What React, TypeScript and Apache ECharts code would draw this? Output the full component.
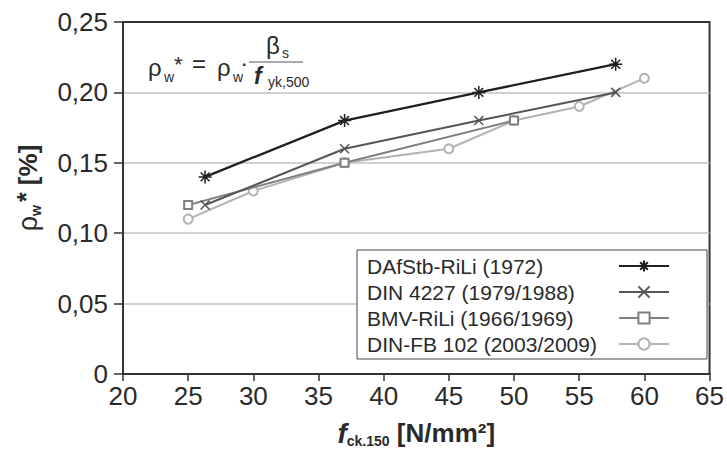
import React, { useEffect, useRef } from "react";
import * as echarts from "echarts";

const seriesNames = [
  "DAfStb-RiLi (1972)",
  "DIN 4227 (1979/1988)",
  "BMV-RiLi (1966/1969)",
  "DIN-FB 102 (2003/2009)",
];

const dafstbX = [26.3, 37, 47.3, 57.8];
const dafstbY = [0.14, 0.18, 0.2, 0.22];

const din4227X = [26.3, 37, 47.3, 57.8];
const din4227Y = [0.12, 0.16, 0.18, 0.2];

const bmvX = [25, 37, 50];
const bmvY = [0.12, 0.15, 0.18];

const dinfbX = [25, 30, 37, 45, 50, 55, 60];
const dinfbY = [0.11, 0.13, 0.15, 0.16, 0.18, 0.19, 0.21];

const xTickLabels = ["20", "25", "30", "35", "40", "45", "50", "55", "60", "65"];
const yTickLabels = ["0", "0,05", "0,10", "0,15", "0,20", "0,25"];

const FONT = "'Liberation Sans', Arial, Helvetica, sans-serif";
const TXT = "#2a2a2a";

const zip = (xs: number[], ys: number[]) => xs.map((x, i) => [x, ys[i]]);

const ASTERISK = "path://M5 0L5 10M0 5L10 5M1.6 1.6L8.4 8.4M1.6 8.4L8.4 1.6";
const CROSS = "path://M0 0L10 10M0 10L10 0";

export default function App() {
  const ref = useRef<HTMLDivElement>(null);

  useEffect(() => {
    if (!ref.current) return;
    const chart = echarts.init(ref.current, undefined, { renderer: "svg" });

    const t = (
      text: string,
      x: number,
      y: number,
      size: number,
      extra: any = {}
    ) => ({
      type: "text",
      x,
      y,
      style: {
        text,
        fontSize: size,
        fontFamily: FONT,
        fill: TXT,
        verticalAlign: "middle",
        align: "left",
        ...extra,
      },
      z: 100,
    });

    const option: any = {
      animation: false,
      backgroundColor: "#ffffff",
      grid: {
        left: 123,
        right: 16,
        top: 22,
        bottom: 79,
        show: true,
        borderColor: "#333",
        borderWidth: 2,
        backgroundColor: "transparent",
      },
      xAxis: {
        type: "value",
        min: 20,
        max: 65,
        interval: 5,
        name: "{f|f}{sub|ck.150}{t| [N/mm²]}",
        nameLocation: "middle",
        nameGap: 44,
        nameTextStyle: {
          fontFamily: FONT,
          color: TXT,
          rich: {
            f: {
              fontSize: 28,
              fontWeight: "bold",
              fontStyle: "italic",
              fontFamily: FONT,
              color: TXT,
              lineHeight: 30,
            },
            sub: {
              fontSize: 14,
              fontWeight: "bold",
              fontFamily: FONT,
              color: TXT,
              lineHeight: 16,
              verticalAlign: "bottom",
            },
            t: {
              fontSize: 26,
              fontWeight: "bold",
              fontFamily: FONT,
              color: TXT,
              lineHeight: 30,
            },
          },
        },
        axisLine: { show: true, lineStyle: { color: "#333", width: 2 } },
        axisTick: {
          show: true,
          inside: false,
          length: 7,
          lineStyle: { color: "#333", width: 1.5 },
        },
        axisLabel: {
          fontSize: 26,
          fontFamily: FONT,
          color: TXT,
          margin: 9,
          formatter: (v: number) => xTickLabels[Math.round((v - 20) / 5)] ?? "",
        },
        splitLine: { show: false },
      },
      yAxis: {
        type: "value",
        min: 0,
        max: 0.25,
        interval: 0.05,
        name: "{r|ρ}{sub|w}{sup|*}{t| [%]}",
        nameLocation: "middle",
        nameGap: 80,
        nameRotate: 90,
        nameTextStyle: {
          fontFamily: FONT,
          color: TXT,
          padding: [0, 0, 0, 20],
          rich: {
            r: {
              fontSize: 27,
              fontFamily: FONT,
              color: TXT,
              lineHeight: 30,
            },
            sub: {
              fontSize: 14,
              fontWeight: "bold",
              fontFamily: FONT,
              color: TXT,
              lineHeight: 16,
              verticalAlign: "bottom",
              padding: [0, 3, 0, 0],
            },
            sup: {
              fontSize: 25,
              fontWeight: "bold",
              fontFamily: FONT,
              color: TXT,
              lineHeight: 22,
              verticalAlign: "top",
            },
            t: {
              fontSize: 26,
              fontWeight: "bold",
              fontFamily: FONT,
              color: TXT,
              lineHeight: 30,
            },
          },
        },
        axisLine: { show: true, lineStyle: { color: "#333", width: 2 } },
        axisTick: {
          show: true,
          inside: false,
          length: 9,
          lineStyle: { color: "#333", width: 1.5 },
        },
        axisLabel: {
          fontSize: 26,
          fontFamily: FONT,
          color: TXT,
          margin: 15,
          formatter: (v: number) => yTickLabels[Math.round(v / 0.05)] ?? "",
        },
        splitLine: {
          show: true,
          lineStyle: {
            color: ["#333", "#c2c2c2", "#c2c2c2", "#c2c2c2", "#c2c2c2", "#333"],
            width: 1.6,
          },
        },
      },
      legend: {
        show: true,
        orient: "vertical",
        left: 357,
        top: 250,
        align: "right",
        itemWidth: 50,
        itemHeight: 14,
        itemGap: 4,
        padding: [5, 37, 4, 10],
        borderColor: "#444",
        borderWidth: 1,
        backgroundColor: "#ffffff",
        data: seriesNames,
        formatter: (name: string) => `{a|${name}}`,
        textStyle: {
          fontSize: 21,
          fontFamily: FONT,
          color: TXT,
          lineHeight: 22,
          rich: {
            a: {
              width: 247,
              align: "left",
              fontSize: 21,
              fontFamily: FONT,
              color: TXT,
              lineHeight: 22,
            },
          },
        },
        z: 50,
      },
      series: [
        {
          name: seriesNames[3],
          type: "line",
          data: zip(dinfbX, dinfbY),
          symbol: "emptyCircle",
          symbolSize: 9,
          lineStyle: { color: "#b3b3b3", width: 2 },
          itemStyle: { color: "#b3b3b3", borderWidth: 1.5 },
          z: 2,
        },
        {
          name: seriesNames[2],
          type: "line",
          data: zip(bmvX, bmvY),
          symbol: "emptyRect",
          symbolSize: 8,
          lineStyle: { color: "#808080", width: 2 },
          itemStyle: { color: "#808080", borderWidth: 1.5 },
          z: 3,
        },
        {
          name: seriesNames[1],
          type: "line",
          data: zip(din4227X, din4227Y),
          symbol: CROSS,
          symbolSize: 9,
          lineStyle: { color: "#555555", width: 2 },
          itemStyle: { color: "#555555", borderColor: "#555555", borderWidth: 1.5 },
          z: 4,
        },
        {
          name: seriesNames[0],
          type: "line",
          data: zip(dafstbX, dafstbY),
          symbol: ASTERISK,
          symbolSize: 13,
          lineStyle: { color: "#1f1f1f", width: 2.3 },
          itemStyle: { color: "#1f1f1f", borderColor: "#1f1f1f", borderWidth: 1.5 },
          z: 5,
        },
      ],
      graphic: [
        t("ρ", 148, 67, 24),
        t("w", 164, 77, 14),
        t("*", 174, 64, 22),
        t("=", 192, 63, 24),
        t("ρ", 217, 67, 24),
        t("w", 233, 77, 14),
        t("·", 242, 64, 16, { fontWeight: "bold" }),
        {
          type: "line",
          shape: { x1: 249, y1: 62, x2: 303, y2: 62 },
          style: { stroke: "#555", lineWidth: 1 },
          z: 100,
        },
        t("β", 266, 45, 24),
        t("s", 282, 53, 14),
        t("f", 254, 76, 23, { fontWeight: "bold", fontStyle: "italic" }),
        t("yk,500", 268, 82, 14),
      ],
    };

    chart.setOption(option);
    return () => chart.dispose();
  }, []);

  return (
    <div
      ref={ref}
      style={{ position: "fixed", left: 0, top: 0, width: 727, height: 453 }}
    />
  );
}
